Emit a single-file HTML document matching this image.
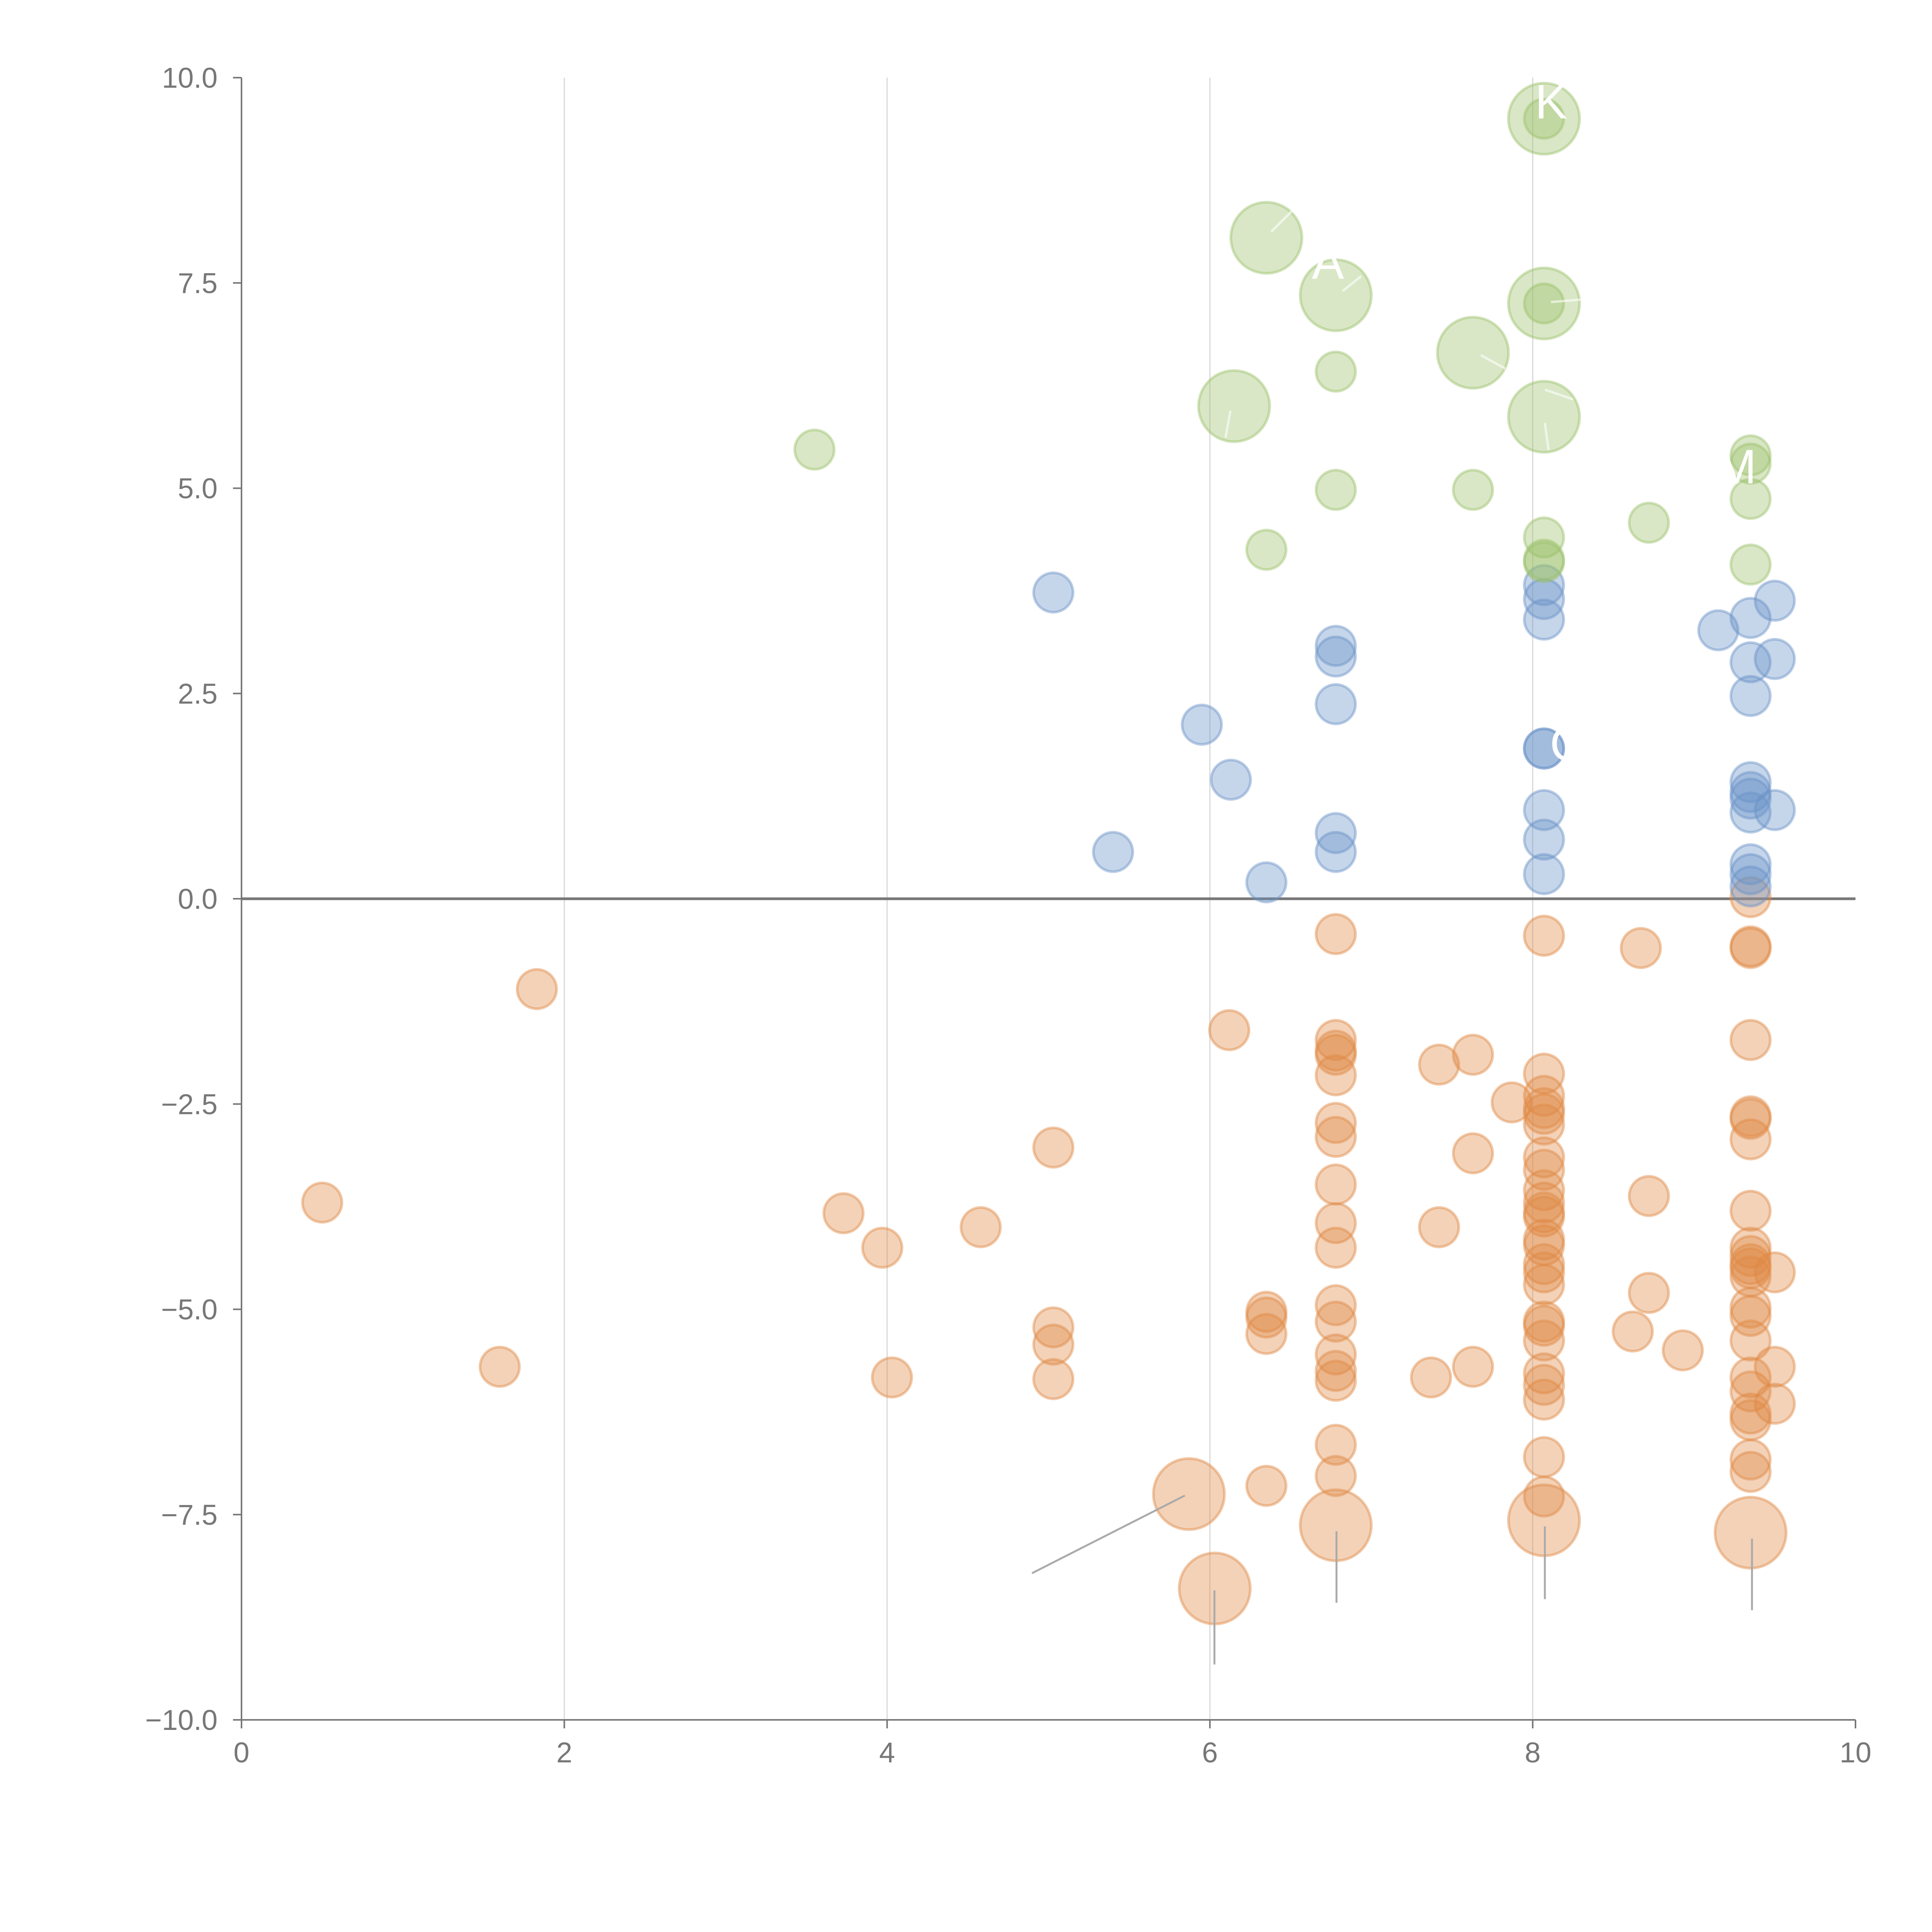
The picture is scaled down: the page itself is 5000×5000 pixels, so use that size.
<!DOCTYPE html>
<html><head><meta charset="utf-8"><style>
html,body{margin:0;padding:0;background:#fff;}
svg{display:block;}
text{font-family:"Liberation Sans",sans-serif;}
</style></head><body>
<svg id="chart" width="5000" height="5000" viewBox="0 0 5000 5000" xmlns="http://www.w3.org/2000/svg">
<g id="grid"></g>
<g id="axes"></g>
<g id="marks"></g>
<g id="annot"></g>
</svg>
<script>
const xTicks=[0,2,4,6,8,10];
const yTicks=[10,7.5,5,2.5,0,-2.5,-5,-7.5,-10];
const yTickLabels=["10.0","7.5","5.0","2.5","0.0","\u22122.5","\u22125.0","\u22127.5","\u221210.0"];
const greenX=[3.55,6.35,6.78,6.78,6.15,6.78,6.35,7.63,7.63,8.07,8.07,8.07,8.07,8.07,8.07,8.07,8.07,8.72,9.35,9.35,9.35,9.35];
const greenY=[5.47,8.05,7.35,6.42,6.0,4.98,4.25,6.65,4.98,9.5,9.5,7.25,7.25,5.87,4.4,4.13,4.1,4.58,5.4,5.3,4.87,4.07];
const greenBig=[0,1,1,0,1,0,0,1,0,1,0,1,0,1,0,0,0,0,0,0,0,0];
const blueX=[5.03,5.95,6.13,5.4,6.35,6.78,6.78,6.78,6.78,6.78,8.07,8.07,8.07,8.07,8.07,8.07,8.07,8.07,9.15,9.35,9.5,9.35,9.5,9.35,9.35,9.35,9.35,9.35,9.5,9.35,9.35,9.35];
const blueY=[3.73,2.12,1.45,0.57,0.2,3.08,2.95,2.37,0.8,0.57,3.82,3.65,3.4,1.83,1.83,1.08,0.72,0.3,3.27,3.42,3.63,2.88,2.92,2.47,1.42,1.3,1.22,1.05,1.08,0.42,0.3,0.15];
const orangeX=[0.5,1.6,1.83,3.73,3.97,4.03,4.58,5.03,5.03,5.03,5.03,6.12,6.35,6.35,6.35,6.35,5.87,6.03,
6.78,6.78,6.78,6.78,6.78,6.78,6.78,6.78,6.78,6.78,6.78,6.78,6.78,6.78,6.78,6.78,6.78,6.78,
7.37,7.42,7.42,7.63,7.63,7.63,7.87,
8.07,8.07,8.07,8.07,8.07,8.07,8.07,8.07,8.07,8.07,8.07,8.07,8.07,8.07,8.07,8.07,8.07,8.07,8.07,8.07,8.07,8.07,8.07,8.07,8.07,8.07,
8.67,8.72,8.72,8.62,8.93,
9.35,9.35,9.35,9.35,9.35,9.35,9.35,9.35,9.35,9.35,9.35,9.35,9.35,9.35,9.35,9.35,9.35,9.35,9.35,9.35,9.35,9.35,9.35,9.5,9.5,9.5];
const orangeY=[-3.7,-5.7,-1.1,-3.83,-4.25,-5.83,-4.0,-3.03,-5.22,-5.43,-5.85,-1.6,-5.03,-5.1,-5.3,-7.15,-7.25,-8.4,
-0.43,-1.72,-1.85,-1.9,-2.15,-2.73,-2.9,-3.48,-3.95,-4.25,-4.95,-5.15,-5.55,-5.75,-5.87,-6.65,-7.03,-7.63,
-5.83,-2.02,-4.0,-1.9,-3.1,-5.7,-2.48,
-0.45,-2.13,-2.4,-2.55,-2.62,-2.75,-3.15,-3.3,-3.55,-3.7,-3.82,-3.87,-4.15,-4.22,-4.45,-4.55,-4.7,-5.15,-5.2,-5.38,-5.78,-5.92,-6.1,-6.8,-7.28,-7.57,
-0.6,-3.62,-4.8,-5.27,-5.5,
0.02,-0.58,-0.6,-1.72,-2.65,-2.68,-2.93,-3.8,-4.25,-4.35,-4.45,-4.5,-4.6,-4.98,-5.08,-5.38,-5.83,-6.0,-6.27,-6.35,-6.83,-6.98,-7.72,-4.55,-5.7,-6.15];
const orangeBig=[0,0,0,0,0,0,0,0,0,0,0,0,0,0,0,0,1,1, 0,0,0,0,0,0,0,0,0,0,0,0,0,0,0,0,0,1, 0,0,0,0,0,0,0, 0,0,0,0,0,0,0,0,0,0,0,0,0,0,0,0,0,0,0,0,0,0,0,0,0,1, 0,0,0,0,0, 0,0,0,0,0,0,0,0,0,0,0,0,0,0,0,0,0,0,0,0,0,0,1,0,0,0];

const NS="http://www.w3.org/2000/svg";
const X0=625,X1=4802,Y0=201,Y1=4451;
function sx(v){return X0+(v-0)/(10-0)*(X1-X0);}
function sy(v){return Y0+(10-v)/(20)*(Y1-Y0);}
function mk(tag,attrs,parent){const e=document.createElementNS(NS,tag);for(const k in attrs)e.setAttribute(k,attrs[k]);parent.appendChild(e);return e;}
const grid=document.getElementById('grid'),axes=document.getElementById('axes'),marks=document.getElementById('marks'),annot=document.getElementById('annot');

xTicks.forEach(function(t){
  if(t>0&&t<10){const l=mk('line',{x1:sx(t),x2:sx(t),y1:Y0,y2:Y1,stroke:'#d8d8d8','stroke-width':3},grid);
  
  }
  const tk=mk('line',{x1:sx(t),x2:sx(t),y1:Y1,y2:Y1+22,stroke:'#777','stroke-width':4},axes);
  
  
  const tx=mk('text',{x:sx(t),y:Y1+110,'text-anchor':'middle','font-size':74,fill:'#777'},axes);
  tx.textContent=String(t);
  
  
});
yTicks.forEach(function(t,i){
  const tk=mk('line',{x1:X0-22,x2:X0,y1:sy(t),y2:sy(t),stroke:'#777','stroke-width':4},axes);
  
  
  const tx=mk('text',{x:X0-62,y:sy(t)+26,'text-anchor':'end','font-size':74,fill:'#777'},axes);
  tx.textContent=yTickLabels[i];
  
  
});
let a=mk('line',{x1:X0,x2:X0,y1:Y0,y2:Y1,stroke:'#777','stroke-width':4},axes);


a=mk('line',{x1:X0,x2:X1,y1:Y1,y2:Y1,stroke:'#777','stroke-width':4},axes);


a=mk('line',{x1:X0,x2:X1,y1:sy(0),y2:sy(0),stroke:'#777','stroke-width':7},axes);



function series(xs,ys,big,color,name){
  for(let i=0;i<xs.length;i++){
    const c=mk('circle',{cx:sx(xs[i]),cy:sy(ys[i]),r:big&&big[i]?92:51,fill:color,'fill-opacity':0.38,stroke:color,'stroke-opacity':0.45,'stroke-width':7},marks);
    
    
  }
}
series(orangeX,orangeY,orangeBig,'#e08a45','orange-point');
series(blueX,blueY,null,'#6a92c8','blue-point');
series(greenX,greenY,greenBig,'#9cc06a','green-point');

const S=1/0.3134;
const grayLines=[[837,1276,961,1213],[985,1290,985,1350],[1084,1242,1084,1300],[1253,1238,1253,1297],[1421,1248,1421,1306]];
grayLines.forEach(function(p){
  const l=mk('line',{x1:p[0]*S,y1:p[1]*S,x2:p[2]*S,y2:p[3]*S,stroke:'#aaa','stroke-width':5},annot);
  
  
});
const whiteLines=[[1031,188,1048,171],[1089,236,1104,224],[1258,245,1282,243],[1201,288,1221,299],[1253,343,1256,365],[998,333,994,355],[1253,316,1276,324]];
whiteLines.forEach(function(p){
  const l=mk('line',{x1:p[0]*S,y1:p[1]*S,x2:p[2]*S,y2:p[3]*S,stroke:'#fff','stroke-opacity':0.6,'stroke-width':6},annot);
  
  
});
const labels=[["K",1245,96],["A",1064,226],["M",1392,392],["C",1257,617]];
labels.forEach(function(p){
  const t=mk('text',{x:p[1]*S,y:p[2]*S,'font-size':125,fill:'#fff'},annot);
  t.textContent=p[0];
  
  
});
</script>
</body></html>
